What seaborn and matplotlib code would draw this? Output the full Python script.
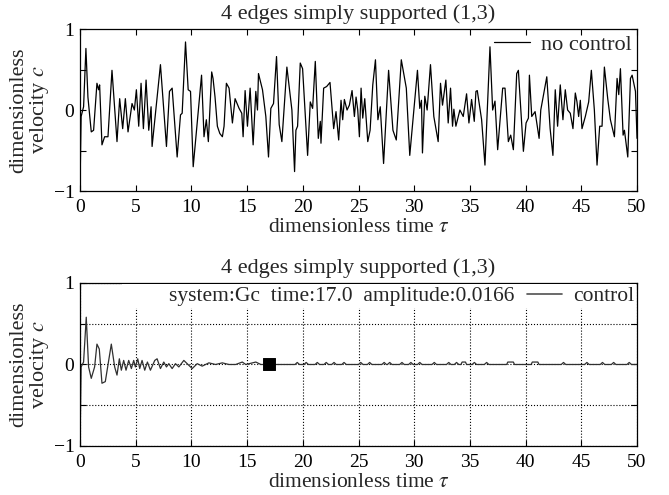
import pandas as pd
import matplotlib
import matplotlib.pyplot as plt
import seaborn as sns
from matplotlib.lines import Line2D

sns.set_style("ticks")
plt.rcParams['font.family'] = ['Liberation Serif', 'DejaVu Serif']
plt.rcParams['mathtext.fontset'] = 'stix'
plt.rcParams['axes.unicode_minus'] = True

# no control response (vertices)
tau_nc = [0.0, 0.1, 0.32, 0.53, 0.71, 1.01, 1.22, 1.52, 1.67, 1.76, 1.97, 2.21, 2.51, 2.87, 3.32,
          3.56, 3.83, 4.07, 4.31, 4.67, 4.88, 5.06, 5.27, 5.48, 5.69, 5.93, 6.17, 6.38, 6.47, 7.22,
          7.76, 8.03, 8.27, 8.72, 9.02, 9.17, 9.47, 9.71, 9.92, 10.16, 10.91, 11.13, 11.34, 11.52,
          11.82, 11.94, 12.12, 12.33, 12.55, 12.78, 12.93, 13.14, 13.38, 13.68, 13.92, 14.28, 14.52,
          14.64, 14.82, 15.03, 15.27, 15.54, 15.78, 15.93, 16.02, 16.38, 16.68, 16.92, 17.13, 17.37,
          17.64, 17.88, 18.12, 18.57, 19.02, 19.26, 19.38, 19.53, 19.77, 19.98, 20.43, 20.67, 20.88,
          21.12, 21.39, 21.57, 21.63, 21.87, 22.14, 22.44, 22.77, 22.98, 23.22, 23.43, 23.58, 23.73,
          23.97, 24.18, 24.42, 24.63, 24.78, 24.93, 25.08, 25.23, 25.38, 25.56, 25.83, 26.04, 26.28,
          26.52, 26.74, 26.95, 27.25, 27.7, 28.09, 28.39, 28.84, 29.29, 29.6, 30.29, 30.5, 30.65,
          30.74, 30.95, 31.16, 31.46, 31.76, 32.15, 32.36, 32.54, 32.84, 33.05, 33.26, 33.44, 33.56,
          33.74, 34.1, 34.4, 34.7, 34.91, 35.15, 35.39, 35.54, 35.66, 36.05, 36.35, 36.8, 37.04,
          37.25, 37.49, 37.94, 38.15, 38.45, 38.66, 38.9, 39.2, 39.35, 39.8, 40.04, 40.25, 40.34,
          40.55, 40.85, 41.21, 41.36, 41.9, 42.2, 42.45, 42.66, 42.87, 43.11, 43.35, 43.56, 43.77,
          44.01, 44.25, 44.46, 44.61, 44.76, 44.91, 45.06, 45.36, 45.66, 45.9, 46.17, 46.41, 46.65,
          46.86, 47.07, 47.37, 47.61, 47.97, 48.21, 48.36, 48.51, 48.75, 48.87, 49.17, 49.41, 49.56,
          49.86, 50.0]
c_nc = [-0.95, -0.08, 0.04, 0.76, 0.16, -0.27, -0.25, 0.33, 0.25, 0.31, -0.43, -0.33, -0.33, 0.49, -0.39,
        0.14, -0.23, 0.14, -0.27, 0.08, 0.0, 0.25, -0.2, 0.33, -0.23, 0.37, -0.25, 0.04, -0.45, 0.56,
        -0.45, 0.23, 0.27, -0.58, -0.06, -0.04, 0.84, 0.25, 0.23, -0.7, 0.43, -0.33, -0.12, -0.39,
        0.47, 0.39, 0.16, -0.2, -0.29, -0.33, -0.2, 0.33, 0.27, -0.16, 0.14, 0.02, -0.04,
        -0.33, 0.24, -0.2, 0.27, -0.43, 0.23, 0.0, 0.45, 0.25, -0.08, -0.58, 0.02, 0.08,
        0.66, -0.18, -0.39, 0.53, 0.0, -0.76, -0.25, -0.2, 0.58, 0.51, -0.56, 0.1, 0.02,
        0.6, -0.35, -0.14, -0.41, 0.27, 0.29, 0.34, -0.23, -0.02, -0.37, 0.12, -0.12, 0.13,
        0.0, 0.06, 0.24, -0.08, 0.16, 0.0, -0.33, 0.27, -0.1, 0.14, -0.39, -0.25, 0.31,
        0.62, -0.12, 0.04, -0.66, 0.49, -0.25, -0.37, 0.62, 0.27, -0.56, 0.49, 0.02, 0.12,
        -0.53, 0.17, 0.0, 0.56, -0.08, -0.39, 0.33, 0.06, 0.37, -0.16, 0.27, -0.2, 0.01,
        -0.2, 0.0, -0.08, 0.2, -0.16, 0.13, -0.14, 0.23, 0.24, -0.12, -0.68, 0.78, 0.0,
        0.11, -0.49, 0.27, 0.27, -0.39, -0.31, -0.49, 0.45, 0.49, -0.51, -0.16, -0.1, 0.43,
        -0.08, -0.02, -0.35, 0.0, 0.41, -0.23, -0.56, 0.25, -0.2, 0.31, -0.12, 0.25, 0.0,
        -0.04, -0.23, 0.21, 0.1, -0.08, 0.12, -0.23, -0.08, 0.1, 0.49, 0.0, -0.68, -0.2,
        -0.2, 0.53, 0.14, -0.12, -0.33, 0.39, 0.19, 0.51, -0.31, -0.25, -0.58, 0.39, 0.43,
        0.23, -0.35]

# controlled response
tau_c = [0.0, 0.1, 0.32, 0.56, 0.77, 1.01, 1.31, 1.52, 1.73, 1.97, 2.27, 2.81, 3.11, 3.32, 3.53,
         3.71, 3.92, 4.13, 4.37, 4.61, 4.82, 4.97, 5.18, 5.36, 5.57, 5.81, 6.05, 6.32, 6.71, 6.92,
         7.22, 7.52, 7.76, 7.97, 8.27, 8.57, 8.87, 9.32, 9.62, 10.07, 10.52, 10.97, 11.57, 12.17,
         12.77, 13.37, 13.97, 14.57, 14.88, 15.78, 16.23, 17.0,
         19.3, 19.5, 19.7, 20.1, 20.3, 20.5, 21.1, 21.3, 21.5, 21.9, 22.1, 22.3, 22.6, 22.8, 23.0,
         23.5, 23.7, 23.9, 25.0, 25.2, 25.4, 25.8, 26.0, 26.2, 27.1, 27.3, 27.5, 27.6, 27.8, 28.0,
         28.7, 28.9, 29.1, 29.5, 29.7, 29.9, 30.3, 30.5, 30.7, 31.6, 31.8, 32.0, 32.9, 33.1, 33.3,
         33.6, 33.8, 34.0, 34.2, 34.3, 34.6, 34.7, 35.2, 35.4, 35.6, 36.3, 36.5, 36.7, 38.3, 38.4,
         38.9, 39.0, 40.5, 40.6, 41.1, 41.2, 43.2, 43.4, 43.6, 45.3, 45.5, 45.7, 46.7, 46.9, 47.1,
         47.7, 47.9, 48.1, 49.1, 49.3, 49.5, 50.0]
c_c = [-1.0, -0.03, 0.03, 0.58, -0.03, -0.17, -0.03, 0.25, 0.19, -0.23, -0.21, 0.25, -0.03, -0.13, 0.07,
       -0.07, 0.05, -0.07, 0.05, -0.05, 0.05, -0.03, 0.07, -0.05, 0.05, -0.07, 0.03, -0.07, 0.05, 0.07,
       -0.05, 0.03, -0.03, 0.01, -0.05, 0.01, -0.03, 0.05, 0.01, -0.05, 0.01, -0.02, 0.02, 0.0,
       0.02, 0.0, 0.0, 0.03, 0.0, 0.03, 0.0, 0.0,
       0.0, 0.025, 0.0, 0.0, 0.025, 0.0, 0.0, 0.025, 0.0, 0.0, 0.025, 0.0, 0.0, 0.025, 0.0,
       0.0, 0.025, 0.0, 0.0, 0.025, 0.0, 0.0, 0.025, 0.0, 0.0, 0.025, 0.0, 0.0, 0.025, 0.0,
       0.0, 0.025, 0.0, 0.0, 0.025, 0.0, 0.0, 0.025, 0.0, 0.0, 0.025, 0.0, 0.0, 0.025, 0.0,
       0.0, 0.025, 0.0, 0.0, 0.03, 0.03, 0.0, 0.0, 0.025, 0.0, 0.0, 0.025, 0.0, 0.0, 0.03,
       0.03, 0.0, 0.0, 0.03, 0.03, 0.0, 0.0, 0.025, 0.0, 0.0, 0.025, 0.0, 0.0, 0.025, 0.0,
       0.0, 0.025, 0.0, 0.0, 0.025, 0.0, 0.0]

marker_tau = [17.0]
marker_c = [0.0]

title = "4 edges simply supported (1,3)"
info_text = "system:Gc  time:17.0  amplitude:0.0166"

df_nc = pd.DataFrame({"tau": tau_nc, "c": c_nc})
df_c = pd.DataFrame({"tau": tau_c, "c": c_c})
df_m = pd.DataFrame({"tau": marker_tau, "c": marker_c})

fig = plt.figure(figsize=(6.69, 4.95), dpi=100)
ax1 = fig.add_axes([0.1196, 0.6141, 0.8326, 0.3273])
ax2 = fig.add_axes([0.1196, 0.099, 0.8326, 0.3293])


def style(ax):
    ax.set_xlim(0, 50)
    ax.set_ylim(-1, 1)
    ax.set_xticks(range(0, 51, 5))
    ax.set_yticks([-1, -0.5, 0, 0.5, 1])
    ax.set_yticklabels(["\u22121", "", "0", "", "1"])
    ax.tick_params(direction="in", top=True, right=True, labelsize=14, length=4,
                   width=0.8, pad=5.5, colors="black")
    ax.tick_params(axis="y", pad=4)
    for s in ax.spines.values():
        s.set_linewidth(0.9)
        s.set_color("black")
    ax.set_xlabel(r"dimensionless time $\tau$", fontsize=15.5, labelpad=1.5)
    ax.set_ylabel("dimensionless\nvelocity $c$", fontsize=16, labelpad=2, linespacing=0.95)
    ax.set_title(title, fontsize=16, pad=7)


sns.lineplot(data=df_nc, x="tau", y="c", ax=ax1, color="black", linewidth=0.9,
             sort=False, estimator=None, label="no control")
style(ax1)
ax1.legend(loc="upper right", fontsize=16, frameon=False, handlelength=1.6,
           handletextpad=0.5, borderaxespad=0.1, borderpad=0.15)

sns.lineplot(data=df_c, x="tau", y="c", ax=ax2, color="#303030", linewidth=0.9,
             sort=False, estimator=None, legend=False)
sns.scatterplot(data=df_m, x="tau", y="c", ax=ax2, marker="s", s=70, color="black",
                edgecolor="black", zorder=5, legend=False)
style(ax2)
ax2.grid(True, linestyle=":", color="black", linewidth=0.8)

handles = [Line2D([], [], color="none"), Line2D([], [], color="#505050", linewidth=1.2)]
leg = ax2.legend(handles, [info_text, "control"], loc="upper right", ncol=2, fontsize=15.5,
                 frameon=True, fancybox=False, handlelength=1.6, handletextpad=0.5,
                 columnspacing=0.6, borderaxespad=0.05, borderpad=0.1)
leg.get_frame().set_facecolor("white")
leg.get_frame().set_edgecolor("none")
leg.get_frame().set_alpha(1)

fig.savefig("out.png", dpi=100)
